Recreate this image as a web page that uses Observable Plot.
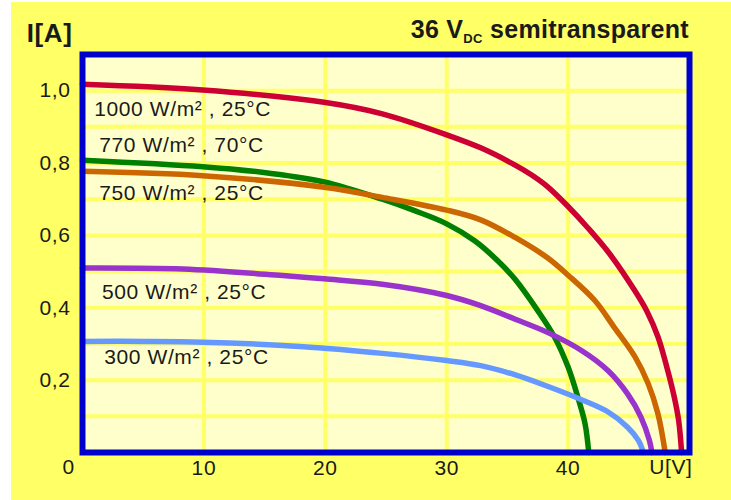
<!DOCTYPE html>
<html>
<head>
<meta charset="utf-8">
<script src="https://cdn.jsdelivr.net/npm/d3@7"></script>
<script src="https://cdn.jsdelivr.net/npm/@observablehq/plot@0.6"></script>
<style>
  html, body { margin: 0; padding: 0; background: #ffffff; }
  #wrap { position: relative; width: 731px; height: 500px; overflow: hidden; }
  #bg { position: absolute; left: 11px; top: 2px; right: 0; bottom: 0; background: #ffff66; }
  #chart { position: absolute; left: 0; top: 0; }
</style>
</head>
<body>
<div id="wrap"><div id="bg"></div><div id="chart"></div></div>
<script>
// Series: U [V] and I [A]
const names = ["1000 W/m² , 25°C", "770 W/m² , 70°C", "750 W/m² , 25°C", "500 W/m² , 25°C", "300 W/m² , 25°C"];
const colors = ["#cc0033", "#007f00", "#cc6600", "#9933cc", "#6699ff"];

const u1000 = [0, 9.9, 19.9, 24.7, 30, 32.8, 35.6, 37.0, 38.3, 40, 41.6, 43.4, 45.5, 46.5, 47.4, 48.1, 48.7, 49.1, 49.35];
const i1000 = [1.018, 1.002, 0.968, 0.936, 0.878, 0.842, 0.795, 0.767, 0.735, 0.68, 0.622, 0.55, 0.447, 0.39, 0.32, 0.24, 0.16, 0.09, 0];

const u770 = [0, 9.9, 15.4, 19.9, 24.7, 27.3, 30, 32.3, 34.2, 35.6, 37.5, 38.9, 40, 40.8, 41.4, 41.7];
const i770 = [0.808, 0.79, 0.772, 0.748, 0.70, 0.669, 0.632, 0.585, 0.53, 0.48, 0.392, 0.318, 0.236, 0.153, 0.079, 0];

const u750 = [0, 9.9, 19.9, 24.7, 30, 32.8, 35.6, 38.3, 40, 42.2, 43.8, 45.5, 46.6, 47.4, 48.0];
const i750 = [0.777, 0.765, 0.733, 0.705, 0.67, 0.643, 0.595, 0.538, 0.49, 0.42, 0.346, 0.265, 0.19, 0.107, 0];

const u500 = [0, 8.25, 16.5, 19.9, 24.7, 30, 32.8, 35.6, 38.3, 41.1, 43.3, 44.9, 46.0, 46.7, 46.9];
const i500 = [0.51, 0.507, 0.489, 0.48, 0.465, 0.434, 0.406, 0.369, 0.332, 0.282, 0.226, 0.162, 0.098, 0.033, 0];

const u300 = [0, 5.2, 9.9, 16.5, 19.9, 24.7, 30, 32.8, 35.6, 38.3, 41.1, 43.3, 44.9, 45.8, 46.2];
const i300 = [0.307, 0.307, 0.305, 0.296, 0.288, 0.274, 0.254, 0.24, 0.215, 0.183, 0.146, 0.112, 0.07, 0.033, 0];

// Label anchors (data units)
const labelU = [0.97, 1.38, 1.38, 1.6, 1.79];
const labelI = [0.949, 0.848, 0.716, 0.443, 0.263];

// Ticks
const xTicks = [10, 20, 30, 40];
const yTicks = [0.2, 0.4, 0.6, 0.8, 1.0];
const yGrid = [0.1, 0.2, 0.3, 0.4, 0.5, 0.6, 0.7, 0.8, 0.9, 1.0];

const seriesU = [u1000, u770, u750, u500, u300];
const seriesI = [i1000, i770, i750, i500, i300];
const rows = names.flatMap((n, k) => seriesU[k].map((u, j) => ({series: n, U: u, I: seriesI[k][j]})));
const labels = names.map((n, k) => ({text: n, U: labelU[k], I: labelI[k]}));

const font = "'Liberation Sans', Arial, Helvetica, sans-serif";
const ink = "#1a1a1a";

const chart = Plot.plot({
  width: 731,
  height: 500,
  marginLeft: 82,
  marginRight: 42,
  marginTop: 54,
  marginBottom: 48,
  style: {background: "transparent", fontFamily: font, fontSize: "21px", color: ink, overflow: "visible", letterSpacing: "0.6px"},
  x: {domain: [0, 50]},
  y: {domain: [0, 1.1]},
  color: {domain: names, range: colors},
  marks: [
    Plot.frame({fill: "#ffffcc", stroke: null}),
    Plot.gridX(xTicks, {stroke: "#ffff66", strokeOpacity: 1, strokeWidth: 4}),
    Plot.gridY(yGrid, {stroke: "#ffff66", strokeOpacity: 1, strokeWidth: 4}),
    Plot.line(rows, {x: "U", y: "I", z: "series", stroke: "series", strokeWidth: 5.5, curve: "catmull-rom"}),
    Plot.frame({stroke: "#0000cc", strokeWidth: 6}),
    Plot.axisX(xTicks, {tickSize: 0, tickPadding: 8, label: null, fill: ink}),
    Plot.axisY(yTicks, {tickSize: 0, tickPadding: 12, label: null, fill: ink, tickFormat: d => d.toFixed(1).replace(".", ",")}),
    Plot.text(labels, {x: "U", y: "I", text: "text", textAnchor: "start", fill: ink, fontSize: 21}),
    Plot.text(["0"], {frameAnchor: "bottom-left", lineAnchor: "middle", text: d => d, dx: -20, dy: 15, fill: ink}),
    Plot.text(["U[V]"], {frameAnchor: "bottom-right", lineAnchor: "middle", text: d => d, textAnchor: "end", dx: 3, dy: 15, fill: ink}),
    Plot.text(["I[A]"], {frameAnchor: "top-left", lineAnchor: "middle", text: d => d, textAnchor: "end", dx: -10, dy: -21, fill: ink, fontSize: 26, fontWeight: "bold"})
  ]
});

document.getElementById("chart").appendChild(chart);

// Title with subscript
const t = d3.select(chart).append("text")
  .attr("x", 689).attr("y", 38)
  .attr("text-anchor", "end")
  .attr("font-family", font)
  .attr("font-weight", "bold")
  .attr("font-size", 25)
  .attr("letter-spacing", "0.3px")
  .attr("fill", ink);
t.append("tspan").text("36 V");
t.append("tspan").attr("font-size", 13).attr("dy", 5).text("DC");
t.append("tspan").attr("dy", -5).text(" semitransparent");
</script>
</body>
</html>
